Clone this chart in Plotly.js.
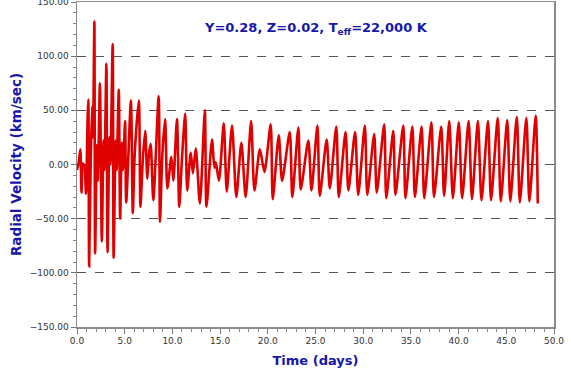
<!DOCTYPE html>
<html>
<head>
<meta charset="utf-8">
<script src="https://cdn.plot.ly/plotly-3.0.1.min.js"></script>
<style>html,body{margin:0;padding:0;background:#fff;}#chart{width:571px;height:374px;}</style>
</head>
<body>
<div id="chart"></div>
<script>
// Time (days) of turning points
var timeDays = [
  0.00, 0.18, 0.35, 0.47, 0.60, 0.72, 0.80, 0.94, 1.12, 1.19, 1.27, 1.45, 1.60, 1.68, 1.82, 1.90,
  2.08, 2.18, 2.40, 2.60, 2.78, 2.88, 3.08, 3.20, 3.40, 3.50, 3.74, 3.84, 4.05, 4.15, 4.38, 4.52,
  4.70, 4.82, 5.04, 5.16, 5.65, 5.85, 6.05, 6.48, 6.65, 6.90, 7.15, 7.37, 7.55, 7.72, 8.00, 8.56,
  8.70, 8.95, 9.24, 9.47, 9.89, 10.10, 10.48, 10.72, 11.00, 11.34, 11.55, 11.92, 12.15, 12.45, 12.88, 13.40,
  13.57, 14.15, 14.40, 14.55, 14.88, 15.38, 15.70, 16.25, 16.70, 17.23, 17.68, 18.25, 18.60, 19.17, 19.65, 20.30,
  20.52, 21.15, 21.50, 22.30, 22.57, 23.20, 23.45, 24.25, 24.58, 25.20, 25.45, 26.17, 26.50, 27.18, 27.44, 28.15,
  28.45, 29.15, 29.48, 30.17, 30.43, 31.15, 31.42, 32.20, 32.42, 33.15, 33.38, 34.20, 34.43, 35.15, 35.42, 36.12,
  36.40, 37.15, 37.42, 38.18, 38.48, 39.02, 39.40, 40.02, 40.37, 41.05, 41.40, 42.02, 42.40, 43.08, 43.40, 44.10,
  44.42, 45.10, 45.42, 46.10, 46.42, 47.10, 47.42, 48.08, 48.30
];
// Radial velocity (km/sec) at those times
var radialVelocity = [
  -5, 2, 14, -26, 1, -3, 0, -27, 45, 60, -94, 10, 54, 25, 132, -82,
  18, -15, 75, -71, 22, -5, 93, -81, 25, 0, 111, -86, 22, -5, 69, -50,
  20, -5, 40, -35, 59, -45, 10, 59, -39, 5, 31, -13, 10, 19, -33, 63,
  -53, 10, 42, -22, 7, -15, 42, -39, 5, 47, -24, 11, -8, 15, -36, 50,
  -39, 23, -3, 2, -15, 38, -25, 36, -30, 20, -30, 40, -24, 14, -7, 37,
  -32, 27, -15, 30, -30, 34, -23, 22, -24, 36, -29, 23, -22, 35, -30, 30,
  -24, 30, -28, 36, -28, 28, -26, 37, -31, 31, -28, 36, -31, 35, -30, 35,
  -31, 39, -30, 35, -29, 40, -31, 39, -31, 40, -32, 40, -33, 40, -33, 43,
  -34, 41, -34, 44, -35, 43, -34, 45, -36
];

var xTickVals = [0, 5, 10, 15, 20, 25, 30, 35, 40, 45, 50];
var yTickVals = [-150, -100, -50, 0, 50, 100, 150];
var titleText = '<b>Y=0.28, Z=0.02, T<sub>eff</sub>=22,000 K</b>';
var xTitle = '<b>Time (days)</b>';
var yTitle = '<b>Radial Velocity (km/sec)</b>';

var blue = '#1616a8';
var font = 'DejaVu Sans, Verdana, sans-serif';

var trace = {
  x: timeDays,
  y: radialVelocity,
  type: 'scatter',
  mode: 'lines',
  line: {color: '#e00000', width: 2.6, shape: 'spline', smoothing: 0.7},
  hoverinfo: 'skip'
};

var layout = {
  width: 571, height: 374,
  margin: {l: 77, r: 17, t: 2, b: 47, pad: 0},
  paper_bgcolor: '#ffffff', plot_bgcolor: '#ffffff',
  showlegend: false,
  font: {family: font, size: 9, color: '#333333'},
  xaxis: {
    range: [0, 50], tickvals: xTickVals, tickformat: '.1f',
    ticks: 'outside', ticklen: 5, tickwidth: 1, tickcolor: '#777777',
    minor: {ticks: 'outside', dtick: 1, ticklen: 3, tickcolor: '#888888', showgrid: false},
    showline: true, linecolor: '#8c8c8c', linewidth: 1.5, mirror: true,
    showgrid: false, zeroline: false,
    tickfont: {family: font, size: 9, color: '#333333'},
    title: {text: xTitle, font: {family: font, size: 13, color: blue}, standoff: 10}
  },
  yaxis: {
    range: [-150, 150], tickvals: yTickVals, tickformat: '.2f',
    ticklabeloverflow: 'allow',
    ticks: 'outside', ticklen: 5, tickwidth: 1, tickcolor: '#777777',
    minor: {ticks: 'outside', dtick: 10, ticklen: 3, tickcolor: '#888888', showgrid: false},
    showline: true, linecolor: '#8c8c8c', linewidth: 1.5, mirror: true,
    showgrid: true, gridcolor: '#555555', gridwidth: 1, griddash: 'dash',
    zeroline: false,
    tickfont: {family: font, size: 9, color: '#333333'},
    title: {text: yTitle, font: {family: font, size: 13.5, color: blue}, standoff: 5}
  },
  annotations: [{
    text: titleText, xref: 'paper', yref: 'paper', x: 0.5, y: 0.917,
    xanchor: 'center', yanchor: 'middle', showarrow: false,
    font: {family: font, size: 13, color: blue}
  }]
};

Plotly.newPlot('chart', [trace], layout, {staticPlot: true, displayModeBar: false});
</script>
</body>
</html>
